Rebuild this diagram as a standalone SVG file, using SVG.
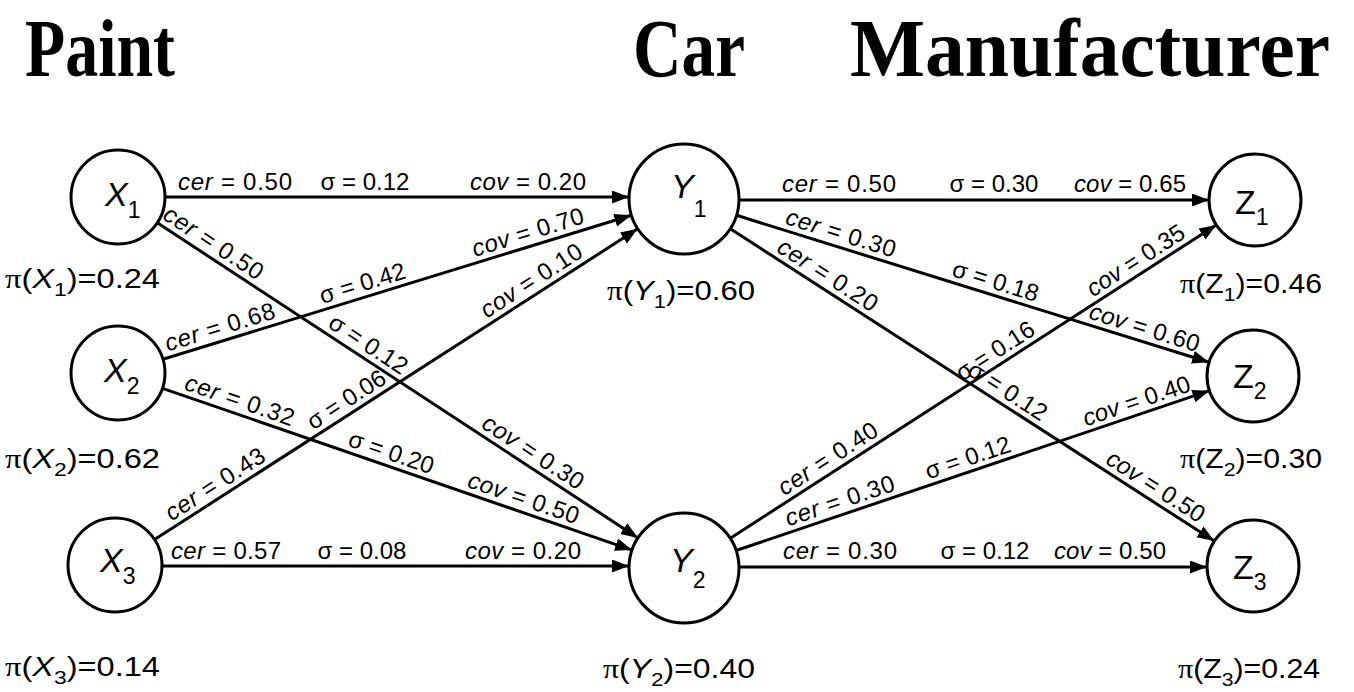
<svg xmlns="http://www.w3.org/2000/svg" width="1354" height="692" viewBox="0 0 1354 692">
<style>
.ln{stroke:#000;stroke-width:3;fill:none}
.nd{fill:#fff;stroke:#000;stroke-width:3}
.lb{font-family:"Liberation Sans",Arial,sans-serif;font-size:24px;fill:#000}
.nl{font-family:"Liberation Sans",Arial,sans-serif;font-size:34px;fill:#000}
.pl{font-family:"Liberation Sans",Arial,sans-serif;font-size:27px;fill:#000}
.it{font-style:italic}
.ttl{font-family:"Liberation Serif","Times New Roman",serif;font-weight:bold;font-size:82px;fill:#000}
.sub{font-size:23px}
</style>
<defs>
<marker id="ah" markerUnits="userSpaceOnUse" markerWidth="20" markerHeight="14" refX="17" refY="6.5" orient="auto"><path d="M0,0 L17,6.5 L0,13 z" fill="#000"/></marker>
</defs>
<rect width="1354" height="692" fill="#fff"/>
<g id="titles">
<text class="ttl" x="25" y="76" textLength="150" lengthAdjust="spacingAndGlyphs">Paint</text>
<text class="ttl" x="633" y="76" textLength="112" lengthAdjust="spacingAndGlyphs">Car</text>
<text class="ttl" x="850" y="76" textLength="480" lengthAdjust="spacingAndGlyphs">Manufacturer</text>
</g>
<g id="connectors">
<line class="ln" x1="165" y1="197" x2="629" y2="197" marker-end="url(#ah)"/>
<line class="ln" x1="157.3" y1="222.8" x2="638" y2="537.9" marker-end="url(#ah)"/>
<line class="ln" x1="162.9" y1="359.2" x2="631.4" y2="215.2" marker-end="url(#ah)"/>
<line class="ln" x1="162.5" y1="388.3" x2="632" y2="550.1" marker-end="url(#ah)"/>
<line class="ln" x1="154.5" y1="539.6" x2="637.7" y2="228.8" marker-end="url(#ah)"/>
<line class="ln" x1="162" y1="566" x2="629" y2="566" marker-end="url(#ah)"/>
<line class="ln" x1="739" y1="200" x2="1209" y2="200" marker-end="url(#ah)"/>
<line class="ln" x1="736.5" y1="215.3" x2="1209.1" y2="362.3" marker-end="url(#ah)"/>
<line class="ln" x1="730.3" y1="228.8" x2="1214.3" y2="541.1" marker-end="url(#ah)"/>
<line class="ln" x1="730.3" y1="538.2" x2="1216.3" y2="224.9" marker-end="url(#ah)"/>
<line class="ln" x1="736.1" y1="550.5" x2="1209.4" y2="390.7" marker-end="url(#ah)"/>
<line class="ln" x1="739" y1="567" x2="1207" y2="567" marker-end="url(#ah)"/>
</g>
<g id="edge-labels">
<text class="lb" x="235" y="190" text-anchor="middle" textLength="114"><tspan class="it">cer</tspan> = 0.50</text>
<text class="lb" x="365" y="190" text-anchor="middle">σ = 0.12</text>
<text class="lb" x="528" y="190" text-anchor="middle" textLength="116"><tspan class="it">cov</tspan> = 0.20</text>
<g transform="translate(205.9,254.5) rotate(33.2)"><text class="lb" x="0" y="-6" text-anchor="middle" textLength="114"><tspan class="it">cer</tspan> = 0.50</text></g>
<g transform="translate(360.7,355.9) rotate(33.2)"><text class="lb" x="0" y="-6" text-anchor="middle">σ = 0.12</text></g>
<g transform="translate(525.6,463.9) rotate(33.2)"><text class="lb" x="0" y="-6" text-anchor="middle" textLength="116"><tspan class="it">cov</tspan> = 0.30</text></g>
<g transform="translate(224.1,340.4) rotate(-17.1)"><text class="lb" x="0" y="-6" text-anchor="middle" textLength="114"><tspan class="it">cer</tspan> = 0.68</text></g>
<g transform="translate(366.6,296.6) rotate(-17.1)"><text class="lb" x="0" y="-6" text-anchor="middle">σ = 0.42</text></g>
<g transform="translate(531.9,245.7) rotate(-17.1)"><text class="lb" x="0" y="-6" text-anchor="middle" textLength="116"><tspan class="it">cov</tspan> = 0.70</text></g>
<g transform="translate(235.3,413.4) rotate(19)"><text class="lb" x="0" y="-6" text-anchor="middle" textLength="114"><tspan class="it">cer</tspan> = 0.32</text></g>
<g transform="translate(386.7,465.6) rotate(19)"><text class="lb" x="0" y="-6" text-anchor="middle">σ = 0.20</text></g>
<g transform="translate(519.1,511.2) rotate(19)"><text class="lb" x="0" y="-6" text-anchor="middle" textLength="116"><tspan class="it">cov</tspan> = 0.50</text></g>
<g transform="translate(222.6,495.8) rotate(-32.75)"><text class="lb" x="0" y="-6" text-anchor="middle" textLength="114"><tspan class="it">cer</tspan> = 0.43</text></g>
<g transform="translate(353.8,411.4) rotate(-32.75)"><text class="lb" x="0" y="-6" text-anchor="middle">σ = 0.06</text></g>
<g transform="translate(538.9,292.3) rotate(-32.75)"><text class="lb" x="0" y="-6" text-anchor="middle" textLength="116"><tspan class="it">cov</tspan> = 0.10</text></g>
<text class="lb" x="226" y="559" text-anchor="middle" textLength="110"><tspan class="it">cer</tspan> = 0.57</text>
<text class="lb" x="362" y="559" text-anchor="middle">σ = 0.08</text>
<text class="lb" x="523" y="559" text-anchor="middle" textLength="116"><tspan class="it">cov</tspan> = 0.20</text>
<text class="lb" x="839" y="192" text-anchor="middle" textLength="114"><tspan class="it">cer</tspan> = 0.50</text>
<text class="lb" x="994" y="192" text-anchor="middle">σ = 0.30</text>
<text class="lb" x="1130" y="192" text-anchor="middle" textLength="112"><tspan class="it">cov</tspan> = 0.65</text>
<g transform="translate(836.8,246.5) rotate(17.3)"><text class="lb" x="0" y="-6" text-anchor="middle" textLength="114"><tspan class="it">cer</tspan> = 0.30</text></g>
<g transform="translate(991.5,294.6) rotate(17.3)"><text class="lb" x="0" y="-6" text-anchor="middle">σ = 0.18</text></g>
<g transform="translate(1140.5,341) rotate(17.3)"><text class="lb" x="0" y="-6" text-anchor="middle" textLength="114"><tspan class="it">cov</tspan> = 0.60</text></g>
<g transform="translate(820.2,286.8) rotate(32.8)"><text class="lb" x="0" y="-6" text-anchor="middle" textLength="114"><tspan class="it">cer</tspan> = 0.20</text></g>
<g transform="translate(1000.2,402.8) rotate(32.8)"><text class="lb" x="0" y="-6" text-anchor="middle">σ = 0.12</text></g>
<g transform="translate(1148.2,498.2) rotate(32.8)"><text class="lb" x="0" y="-6" text-anchor="middle" textLength="112"><tspan class="it">cov</tspan> = 0.50</text></g>
<g transform="translate(835.4,470.4) rotate(-32.8)"><text class="lb" x="0" y="-6" text-anchor="middle" textLength="114"><tspan class="it">cer</tspan> = 0.40</text></g>
<g transform="translate(1002.7,362.6) rotate(-32.8)"><text class="lb" x="0" y="-6" text-anchor="middle">σ = 0.16</text></g>
<g transform="translate(1143.2,272.1) rotate(-32.8)"><text class="lb" x="0" y="-6" text-anchor="middle" textLength="112"><tspan class="it">cov</tspan> = 0.35</text></g>
<g transform="translate(844.2,514.1) rotate(-18.6)"><text class="lb" x="0" y="-6" text-anchor="middle" textLength="114"><tspan class="it">cer</tspan> = 0.30</text></g>
<g transform="translate(972.2,471) rotate(-18.6)"><text class="lb" x="0" y="-6" text-anchor="middle">σ = 0.12</text></g>
<g transform="translate(1140.9,414.2) rotate(-18.6)"><text class="lb" x="0" y="-6" text-anchor="middle" textLength="112"><tspan class="it">cov</tspan> = 0.40</text></g>
<text class="lb" x="840" y="559" text-anchor="middle" textLength="114"><tspan class="it">cer</tspan> = 0.30</text>
<text class="lb" x="985" y="559" text-anchor="middle">σ = 0.12</text>
<text class="lb" x="1110" y="559" text-anchor="middle" textLength="112"><tspan class="it">cov</tspan> = 0.50</text>
</g>
<g id="X1"><circle class="nd" cx="118" cy="197" r="47"/><text class="nl" x="105" y="206"><tspan class="it">X</tspan><tspan class="sub" dy="12">1</tspan></text>
<text class="pl" x="5" y="288" textLength="155" lengthAdjust="spacingAndGlyphs"><tspan font-family="Liberation Serif">π</tspan>(<tspan class="it">X</tspan><tspan font-size="19" dy="8">1</tspan><tspan dy="-8">)=0.24</tspan></text></g>
<g id="X2"><circle class="nd" cx="118" cy="373" r="47"/><text class="nl" x="104" y="382"><tspan class="it">X</tspan><tspan class="sub" dy="12">2</tspan></text>
<text class="pl" x="5" y="468" textLength="155" lengthAdjust="spacingAndGlyphs"><tspan font-family="Liberation Serif">π</tspan>(<tspan class="it">X</tspan><tspan font-size="19" dy="8">2</tspan><tspan dy="-8">)=0.62</tspan></text></g>
<g id="X3"><circle class="nd" cx="115" cy="565" r="47"/><text class="nl" x="100" y="572"><tspan class="it">X</tspan><tspan class="sub" dy="12">3</tspan></text>
<text class="pl" x="5" y="676" textLength="155" lengthAdjust="spacingAndGlyphs"><tspan font-family="Liberation Serif">π</tspan>(<tspan class="it">X</tspan><tspan font-size="19" dy="8">3</tspan><tspan dy="-8">)=0.14</tspan></text></g>
<g id="Y1"><circle class="nd" cx="684" cy="199" r="55"/><text class="nl" x="671" y="198"><tspan class="it">Y</tspan><tspan class="sub" dy="19">1</tspan></text>
<text class="pl" x="607" y="300" textLength="148" lengthAdjust="spacingAndGlyphs"><tspan font-family="Liberation Serif">π</tspan>(<tspan class="it">Y</tspan><tspan font-size="19" dy="8">1</tspan><tspan dy="-8">)=0.60</tspan></text></g>
<g id="Y2"><circle class="nd" cx="684" cy="568" r="55"/><text class="nl" x="670" y="572"><tspan class="it">Y</tspan><tspan class="sub" dy="16">2</tspan></text>
<text class="pl" x="603" y="678" textLength="152" lengthAdjust="spacingAndGlyphs"><tspan font-family="Liberation Serif">π</tspan>(<tspan class="it">Y</tspan><tspan font-size="19" dy="8">2</tspan><tspan dy="-8">)=0.40</tspan></text></g>
<g id="Z1"><circle class="nd" cx="1255" cy="200" r="46"/><text class="nl" x="1235" y="214">Z<tspan class="sub" dy="11">1</tspan></text>
<text class="pl" x="1180" y="293" textLength="142" lengthAdjust="spacingAndGlyphs"><tspan font-family="Liberation Serif">π</tspan>(Z<tspan font-size="19" dy="8">1</tspan><tspan dy="-8">)=0.46</tspan></text></g>
<g id="Z2"><circle class="nd" cx="1253" cy="376" r="46"/><text class="nl" x="1233" y="388">Z<tspan class="sub" dy="11">2</tspan></text>
<text class="pl" x="1180" y="468" textLength="142" lengthAdjust="spacingAndGlyphs"><tspan font-family="Liberation Serif">π</tspan>(Z<tspan font-size="19" dy="8">2</tspan><tspan dy="-8">)=0.30</tspan></text></g>
<g id="Z3"><circle class="nd" cx="1253" cy="566" r="46"/><text class="nl" x="1233" y="579">Z<tspan class="sub" dy="11">3</tspan></text>
<text class="pl" x="1178" y="678" textLength="142" lengthAdjust="spacingAndGlyphs"><tspan font-family="Liberation Serif">π</tspan>(Z<tspan font-size="19" dy="8">3</tspan><tspan dy="-8">)=0.24</tspan></text></g>
</svg>
